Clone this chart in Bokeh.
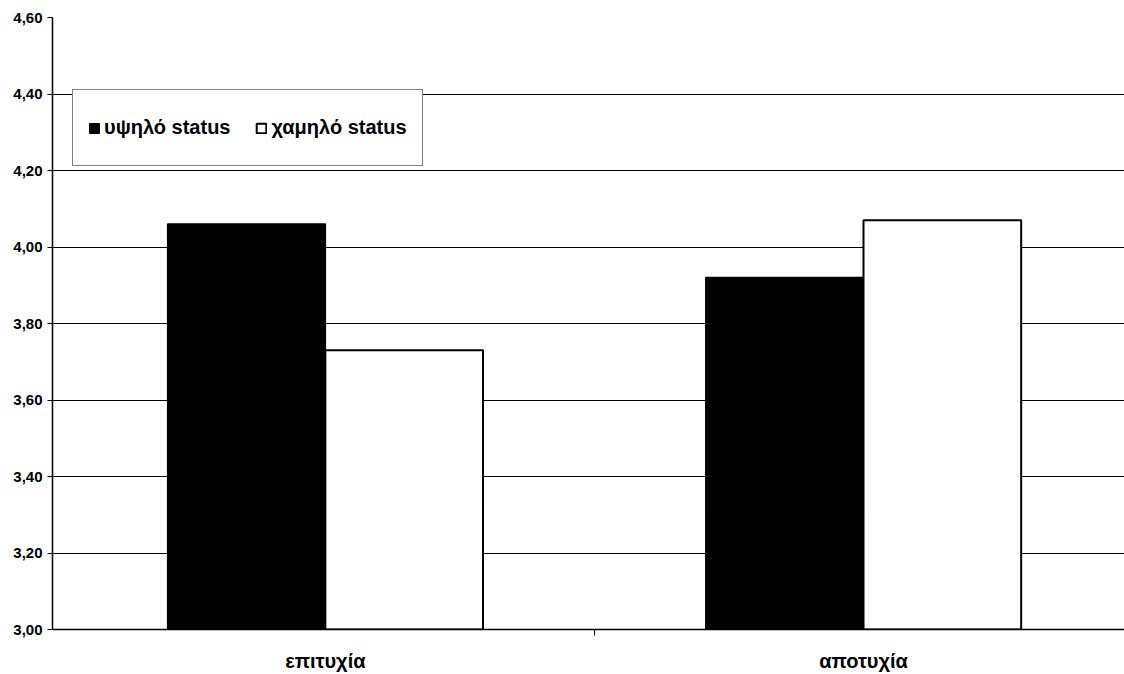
from bokeh.plotting import figure
from bokeh.models import (ColumnDataSource, Range1d, FixedTicker, CustomJSTickFormatter,
                          Legend, LegendItem)
from bokeh.embed import file_html
from bokeh.resources import INLINE

categories = ["επιτυχία", "αποτυχία"]
series_names = ["υψηλό status", "χαμηλό status"]
high_status = [4.06, 3.92]
low_status = [3.73, 4.07]
y_ticks = [3.0, 3.2, 3.4, 3.6, 3.8, 4.0, 4.2, 4.4, 4.6]

FONT = "Liberation Sans"
bar_w = 0.293
idx = list(range(len(categories)))
centers = [i + 0.5 for i in idx]

src_high = ColumnDataSource(dict(x=[c - bar_w / 2 for c in centers], top=high_status))
src_low = ColumnDataSource(dict(x=[c + bar_w / 2 for c in centers], top=low_status))

p = figure(width=1124, height=674, output_backend="svg", toolbar_location=None,
           x_range=Range1d(-0.007, 1.985), y_range=Range1d(3.0, 4.6),
           min_border_left=52, min_border_right=0, min_border_top=17, min_border_bottom=44)
p.outline_line_color = None
p.background_fill_color = "white"
p.border_fill_color = "white"

p.xgrid.grid_line_color = None
p.ygrid.grid_line_color = "black"
p.ygrid.grid_line_width = 1
p.ygrid.ticker = FixedTicker(ticks=y_ticks)

r_high = p.vbar(x="x", top="top", bottom=3.0, width=bar_w, source=src_high,
                fill_color="black", line_color="black", line_width=1.5)
r_low = p.vbar(x="x", top="top", bottom=3.0, width=bar_w, source=src_low,
               fill_color="white", line_color="black", line_width=2)

# y axis
p.yaxis.ticker = FixedTicker(ticks=y_ticks)
p.yaxis.formatter = CustomJSTickFormatter(code="return tick.toFixed(2).replace('.', ',');")
p.yaxis.axis_line_color = "black"
p.yaxis.axis_line_width = 1.5
p.yaxis.major_tick_line_color = "black"
p.yaxis.major_tick_out = 5
p.yaxis.major_tick_in = 0
p.yaxis.minor_tick_line_color = None
p.yaxis.major_label_text_font = FONT
p.yaxis.major_label_text_font_size = "15px"
p.yaxis.major_label_text_font_style = "bold"
p.yaxis.major_label_text_color = "black"
p.yaxis.major_label_standoff = 5

# x axis
p.xaxis.ticker = FixedTicker(ticks=centers, minor_ticks=[1.0])
p.xaxis.major_label_overrides = {c: lab for c, lab in zip(centers, categories)}
p.xaxis.axis_line_color = "black"
p.xaxis.axis_line_width = 1.5
p.xaxis.major_tick_line_color = None
p.xaxis.minor_tick_line_color = "black"
p.xaxis.minor_tick_out = 6
p.xaxis.minor_tick_in = 0
p.xaxis.major_label_text_font = FONT
p.xaxis.major_label_text_font_size = "20px"
p.xaxis.major_label_text_font_style = "bold"
p.xaxis.major_label_text_color = "black"
p.xaxis.major_label_standoff = 14

legend = Legend(items=[LegendItem(label=series_names[0], renderers=[r_high]),
                       LegendItem(label=series_names[1], renderers=[r_low])],
                orientation="horizontal", location=(20, 463))
legend.border_line_color = "black"
legend.border_line_width = 1.5
legend.background_fill_color = "white"
legend.background_fill_alpha = 1
legend.label_text_font = FONT
legend.label_text_font_size = "20px"
legend.label_text_font_style = "bold"
legend.label_text_color = "black"
legend.glyph_width = 12
legend.glyph_height = 12
legend.label_height = 45
legend.label_standoff = 4
legend.spacing = 25
legend.padding = 15
legend.margin = 0
p.add_layout(legend, "center")

open("out.html", "w").write(file_html(p, INLINE))
